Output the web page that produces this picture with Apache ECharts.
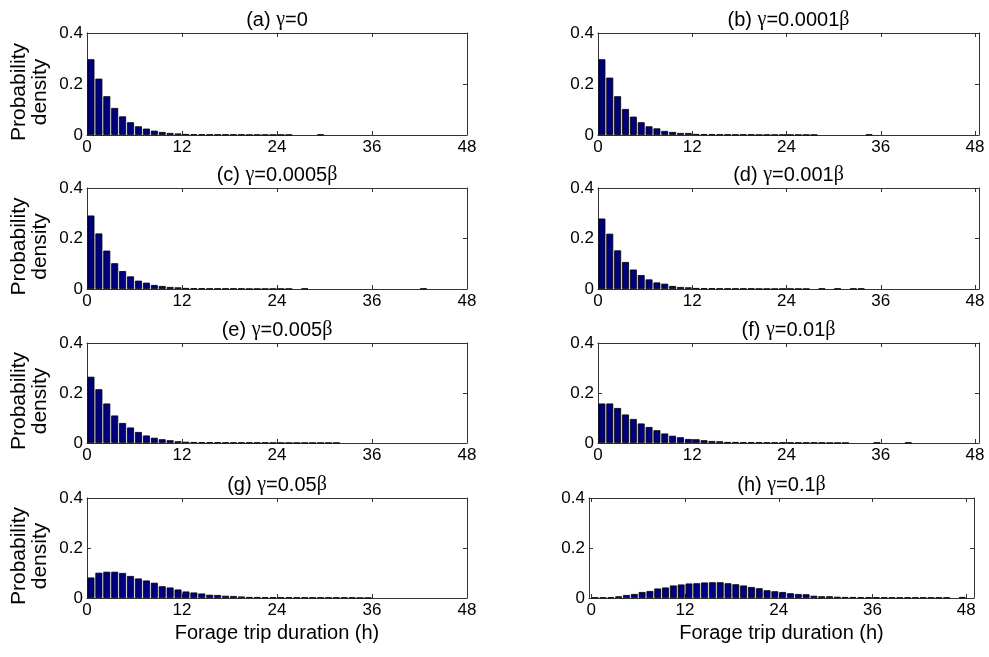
<!DOCTYPE html>
<html><head><meta charset="utf-8">
<script src="https://cdn.jsdelivr.net/npm/echarts@6/dist/echarts.min.js"></script>
<style>html,body{margin:0;padding:0;background:#fff}#c{width:989px;height:657px}</style>
</head><body><div id="c"></div>
<script>
// ---- data ----
const binCenters = [0.5,1.5,2.5,3.5,4.5,5.5,6.5,7.5,8.5,9.5,10.5,11.5,12.5,13.5,14.5,15.5,16.5,17.5,18.5,19.5,20.5,21.5,22.5,23.5,24.5,25.5,26.5,27.5,28.5,29.5,30.5,31.5,32.5,33.5,34.5,35.5,36.5,37.5,38.5,39.5,40.5,41.5,42.5,43.5,44.5,45.5,46.5,47.5];
const xTickValues = [0,12,24,36,48];
const panelLetters = ['(a)','(b)','(c)','(d)','(e)','(f)','(g)','(h)'];
const gammaValues = ['0','0.0001β','0.0005β','0.001β','0.005β','0.01β','0.05β','0.1β'];
const xAxisTitle = 'Forage trip duration (h)';
const yAxisTitle = 'Probability\ndensity';

const densA = [0.297,0.221,0.152,0.106,0.073,0.050,0.034,0.025,0.017,0.012,0.008,0.006,0.004,0.003,0.003,0.002,0.002,0.002,0.002,0.002,0.001,0.001,0.001,0.001,0.001,0.001,0,0,0,0.002,0,0,0,0,0,0,0,0,0,0,0,0,0,0,0,0,0,0];
const densB = [0.297,0.225,0.152,0.102,0.072,0.050,0.034,0.026,0.016,0.012,0.008,0.008,0.004,0.003,0.003,0.002,0.002,0.002,0.002,0.002,0.001,0.001,0.001,0.001,0.001,0.001,0.001,0.001,0,0,0,0,0,0,0.002,0,0,0,0,0,0,0,0,0,0,0,0,0];
const densC = [0.291,0.220,0.152,0.102,0.071,0.050,0.033,0.025,0.016,0.012,0.008,0.0065,0.004,0.003,0.003,0.002,0.002,0.002,0.002,0.002,0.001,0.001,0.001,0.001,0.001,0.001,0,0.002,0,0,0,0,0,0,0,0,0,0,0,0,0,0,0.002,0,0,0,0,0];
const densD = [0.279,0.219,0.153,0.107,0.077,0.055,0.038,0.026,0.021,0.012,0.008,0.0066,0.004,0.003,0.003,0.002,0.002,0.002,0.002,0.002,0.001,0.001,0.001,0.001,0.001,0.001,0.001,0,0.002,0,0.002,0,0.002,0.002,0,0,0,0,0,0,0,0,0,0,0,0,0,0];
const densE = [0.265,0.215,0.158,0.110,0.080,0.062,0.044,0.030,0.021,0.015,0.011,0.007,0.005,0.004,0.003,0.003,0.003,0.002,0.002,0.002,0.002,0.002,0.002,0.001,0.001,0.001,0.001,0.001,0.001,0.001,0.001,0.001,0,0,0,0,0,0,0,0,0,0,0,0,0,0,0,0];
const densF = [0.158,0.158,0.140,0.114,0.096,0.078,0.064,0.051,0.038,0.029,0.023,0.016,0.015,0.011,0.008,0.007,0.004,0.004,0.003,0.003,0.003,0.002,0.002,0.002,0.002,0.002,0.002,0.002,0.002,0.001,0.001,0.001,0,0,0,0.002,0,0,0,0.002,0,0,0,0,0,0,0,0];
const densG = [0.082,0.101,0.105,0.105,0.100,0.088,0.078,0.070,0.061,0.047,0.042,0.034,0.026,0.022,0.018,0.013,0.012,0.009,0.008,0.006,0.004,0.004,0.003,0.003,0.003,0.003,0.002,0.002,0.002,0.002,0.002,0.002,0.002,0.002,0.001,0.001,0,0,0,0,0,0,0,0,0,0,0,0];
const densH = [0.002,0.002,0.003,0.007,0.012,0.016,0.024,0.028,0.038,0.042,0.050,0.054,0.058,0.059,0.062,0.063,0.063,0.059,0.055,0.050,0.044,0.039,0.031,0.027,0.024,0.019,0.016,0.015,0.009,0.007,0.007,0.005,0.004,0.004,0.003,0.003,0.003,0.003,0.002,0.002,0.002,0.002,0.002,0.002,0.002,0.002,0,0.004];
const allDens = [densA,densB,densC,densD,densE,densF,densG,densH];

// ---- layout (positions/styles) ----
const layout = [
  {left:87,  top:33,  width:380, height:102, min:0,    max:48},
  {left:598, top:33,  width:381, height:102, min:0,    max:48.5},
  {left:87,  top:188, width:380, height:101, min:0,    max:48},
  {left:598, top:188, width:381, height:101, min:0,    max:48.5},
  {left:87,  top:343, width:380, height:100, min:0,    max:48},
  {left:598, top:343, width:381, height:100, min:0,    max:48.5},
  {left:87,  top:498, width:380, height:100, min:0,    max:48},
  {left:589, top:498, width:385, height:100, min:-0.3, max:49}
];
const FONT = 'Liberation Sans, Arial, Helvetica, sans-serif';
const lineCol = '#333';

const grids = [], xAxes = [], yAxes = [], series = [], graphics = [];
layout.forEach((L, i) => {
  grids.push({left:L.left, top:L.top, width:L.width, height:L.height, containLabel:false, outerBoundsMode:'none'});
  const isBottom = i >= 6, isLeft = i % 2 === 0;
  xAxes.push({
    type:'value', gridIndex:i, min:L.min, max:L.max, position:'bottom',
    axisLine:{show:true, onZero:false, lineStyle:{color:lineCol, width:1}},
    axisTick:{show:true, inside:true, length:4, customValues:xTickValues, lineStyle:{color:lineCol}},
    axisLabel:{show:true, customValues:xTickValues, color:'#000', fontSize:17, fontFamily:FONT, margin:4},
    splitLine:{show:false},
    name: isBottom ? xAxisTitle : '', nameLocation:'middle', nameGap:25,
    nameTextStyle:{color:'#000', fontSize:20, fontFamily:FONT}
  });
  xAxes.push({
    type:'value', gridIndex:i, min:L.min, max:L.max, position:'top',
    axisLine:{show:true, onZero:false, lineStyle:{color:lineCol, width:1}},
    axisTick:{show:true, inside:true, length:4, customValues:xTickValues, lineStyle:{color:lineCol}},
    axisLabel:{show:false}, splitLine:{show:false}
  });
  yAxes.push({
    type:'value', gridIndex:i, min:0, max:0.4, interval:0.2, position:'left',
    axisLine:{show:true, onZero:false, lineStyle:{color:lineCol, width:1}},
    axisTick:{show:true, inside:true, length:4, lineStyle:{color:lineCol}},
    axisLabel:{show:true, color:'#000', fontSize:17, fontFamily:FONT, margin:4},
    splitLine:{show:false}
  });
  yAxes.push({
    type:'value', gridIndex:i, min:0, max:0.4, interval:0.2, position:'right',
    axisLine:{show:true, onZero:false, lineStyle:{color:lineCol, width:1}},
    axisTick:{show:true, inside:true, length:4, lineStyle:{color:lineCol}},
    axisLabel:{show:false}, splitLine:{show:false}
  });
  const pxPerUnit = L.width / (L.max - L.min);
  const pts = [];
  binCenters.forEach((x,k) => { if (allDens[i][k] > 0) pts.push([x, allDens[i][k]]); });
  series.push({
    type:'bar', xAxisIndex:2*i, yAxisIndex:2*i,
    data: pts,
    barWidth: pxPerUnit * 0.88,
    itemStyle:{color:'#00007f', borderColor:'#000', borderWidth:0.8},
    silent:true
  });
  graphics.push({
    type:'text', x: L.left + L.width/2, y: L.top - 3,
    style:{
      text: panelLetters[i] + ' {g|γ}=' + gammaValues[i].replace('β','{g|β}'),
      fontSize:20, fontFamily:FONT, fill:'#000', align:'center', verticalAlign:'bottom',
      rich:{g:{fontFamily:'Liberation Serif, DejaVu Serif, serif', fontSize:20, fill:'#000'}}
    }
  });
  if (isLeft) {
    graphics.push({
      type:'text', x: 30, y: L.top + L.height/2 + 8, rotation: Math.PI/2,
      style:{
        text: yAxisTitle, fontSize:21, lineHeight:21, fontFamily:FONT, fill:'#000',
        align:'center', verticalAlign:'middle'
      }
    });
  }
});

const chart = echarts.init(document.getElementById('c'), null, {renderer:'canvas'});
chart.setOption({
  backgroundColor:'#fff', animation:false,
  grid:grids, xAxis:xAxes, yAxis:yAxes, series:series, graphic:graphics
});
</script></body></html>
